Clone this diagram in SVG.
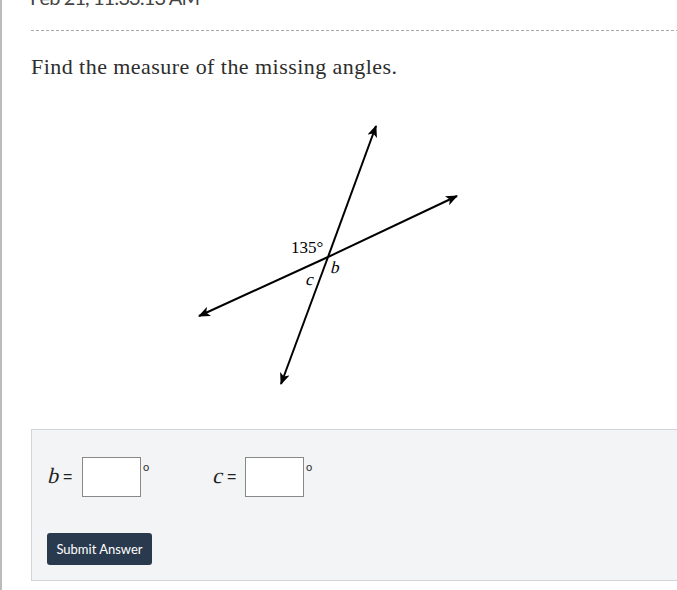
<svg xmlns="http://www.w3.org/2000/svg" width="677" height="590" viewBox="0 0 677 590">
<style>
.ln{stroke:#000;stroke-width:2;fill:none}
.lbl{font-family:"DejaVu Serif","Liberation Serif",serif;fill:#000}
.it{font-family:"Liberation Serif",serif;font-style:italic}
.inp{fill:#fff;stroke:#888;stroke-width:1}
.deg{font-family:Lato,"Liberation Sans",sans-serif;font-size:11px;fill:#333}
</style>
<defs>
<marker id="ah" viewBox="0 0 12 10" refX="11" refY="5" markerWidth="12" markerHeight="10" markerUnits="userSpaceOnUse" orient="auto">
<path d="M0,0 L12,5 L0,10 L3,5 Z" fill="#000"/>
</marker>
</defs>
<rect width="677" height="590" fill="#fff"/>
<rect x="0" y="0" width="2" height="590" fill="#bbb"/>
<text x="30" y="5" font-family="Lato,'Liberation Sans',sans-serif" font-size="20" fill="#444" textLength="170">Feb 21, 11:33:13 AM</text>
<line x1="31" y1="30.5" x2="677" y2="30.5" stroke="#aaa" stroke-width="1" stroke-dasharray="3,2"/>
<text x="31" y="74" font-family="Georgia,'Liberation Serif',serif" font-size="22" fill="#2d2d2d" textLength="366">Find the measure of the missing angles.</text>
<g id="connectors">
<line class="ln" x1="328" y1="257" x2="376" y2="126" marker-end="url(#ah)"/>
<line class="ln" x1="328" y1="257" x2="281" y2="384" marker-end="url(#ah)"/>
<line class="ln" x1="328" y1="257" x2="457" y2="196" marker-end="url(#ah)"/>
<line class="ln" x1="328" y1="257" x2="199" y2="316" marker-end="url(#ah)"/>
</g>
<g id="label-135"><text x="291" y="253" font-family="'Liberation Serif',serif" font-size="17" fill="#000">135°</text></g>
<g id="label-b"><text transform="translate(330,273) skewX(-14)" font-family="'Liberation Serif',serif" font-size="17" fill="#000">b</text></g>
<g id="label-c"><text transform="translate(305,285) skewX(-14)" font-family="'Liberation Serif',serif" font-size="17" fill="#000">c</text></g>
<g id="answer-panel">
<rect x="31.5" y="429.5" width="650" height="151" fill="#f2f4f5" stroke="#d2d4d6"/>
<text transform="translate(47,483) skewX(-14)" font-family="'Liberation Serif',serif" font-size="22" fill="#222">b</text>
<text x="63" y="482" font-family="'Liberation Sans',sans-serif" font-size="16" fill="#222">=</text>
<rect class="inp" x="82.5" y="457.5" width="58" height="39"/>
<text class="deg" x="143" y="471">o</text>
<text transform="translate(212,483) skewX(-14)" font-family="'Liberation Serif',serif" font-size="22" fill="#222">c</text>
<text x="227" y="482" font-family="'Liberation Sans',sans-serif" font-size="16" fill="#222">=</text>
<rect class="inp" x="245.5" y="457.5" width="58" height="39"/>
<text class="deg" x="306" y="471">o</text>
</g>
<g id="submit-button">
<rect x="47" y="533" width="105" height="32" rx="3" fill="#2a3a4e"/>
<text x="99.5" y="553.5" text-anchor="middle" font-family="Lato,'Liberation Sans',sans-serif" font-size="13" fill="#fff">Submit Answer</text>
</g>
</svg>
